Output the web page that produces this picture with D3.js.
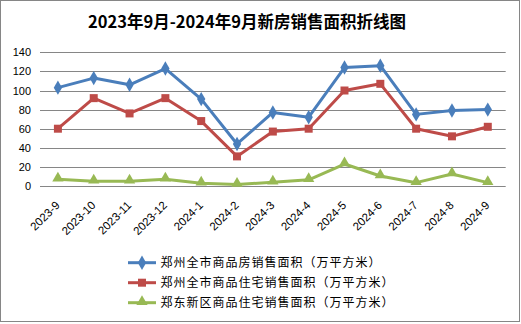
<!DOCTYPE html>
<html><head><meta charset="utf-8">
<script src="https://cdn.jsdelivr.net/npm/d3@7"></script>
<style>
html,body{margin:0;padding:0;background:#fff;}
svg{display:block;}
</style></head>
<body>
<script>
const title = "2023年9月-2024年9月新房销售面积折线图";
const categories = ["2023-9","2023-10","2023-11","2023-12","2024-1","2024-2","2024-3","2024-4","2024-5","2024-6","2024-7","2024-8","2024-9"];
const seriesNames = ["郑州全市商品房销售面积（万平方米）","郑州全市商品住宅销售面积（万平方米）","郑东新区商品住宅销售面积（万平方米）"];
const allHousing = [103,113,106,123,91,44,77,72,124,126,75,79,80];
const residential = [60,92,76,92,68,31,57,60,100,107,60,52,62];
const zhengdong = [7,5,5,7,3,1.5,4,6.5,23,10.5,3.5,12.5,3.5];
const yTicks = [0,20,40,60,80,100,120,140];

const colors = ["#4A7EBB","#BE4B48","#98B954"];
const shapes = ["diamond","square","triangle"];
const data = [allHousing, residential, zhengdong];

const W = 521, H = 324;
const svg = d3.select("body").append("svg").attr("width", W).attr("height", H);
svg.append("rect").attr("x",0.5).attr("y",0.5).attr("width",519).attr("height",321)
  .attr("fill","#fff").attr("stroke","#868686").attr("stroke-width",1);

svg.append("text").attr("x",247).attr("y",28).attr("text-anchor","middle")
  .attr("font-family","'Noto Sans CJK SC', sans-serif").attr("font-weight","bold")
  .attr("font-size",16.5).attr("fill","#000").text(title);

const x = d3.scaleBand().domain(categories).range([40,505.7]);
const y = d3.scaleLinear().domain([0,140]).range([186,52.3]);

// gridlines
svg.append("g").selectAll("line").data(yTicks).join("line")
  .attr("x1",40).attr("x2",505.7)
  .attr("y1",d=>Math.round(y(d))+0.5).attr("y2",d=>Math.round(y(d))+0.5)
  .attr("stroke","#868686").attr("stroke-width",1);

// y labels
svg.append("g").selectAll("text").data(yTicks).join("text")
  .attr("x",31).attr("y",d=>y(d)+4).attr("text-anchor","end")
  .attr("font-family","'Liberation Sans', Arial, sans-serif").attr("font-size",11)
  .attr("fill","#000").text(d=>d);

// x labels
svg.append("g").selectAll("text").data(categories).join("text")
  .attr("transform",d=>`translate(${x(d)+x.bandwidth()/2+2.5},${206}) rotate(-45)`)
  .attr("text-anchor","end")
  .attr("font-family","'Liberation Sans', Arial, sans-serif").attr("font-size",11.5)
  .attr("fill","#000").text(d=>d);

const sym = {
  diamond: d3.symbol().type(d3.symbolDiamond).size(60),
  square: d3.symbol().type(d3.symbolSquare).size(64),
  triangle: d3.symbol().type(d3.symbolTriangle).size(55)
};

const line = d3.line().x((d,i)=>x(categories[i])+x.bandwidth()/2).y(d=>y(d));

data.slice().reverse().forEach((vals, ri)=>{
  const k = data.length-1-ri;
  const g = svg.append("g");
  g.append("path").datum(vals).attr("d",line).attr("fill","none")
    .attr("stroke",colors[k]).attr("stroke-width",3).attr("stroke-linejoin","round");
  g.selectAll("path.m").data(vals).join("path").attr("class","m")
    .attr("transform",(d,i)=>`translate(${x(categories[i])+x.bandwidth()/2},${y(d)+(shapes[k]==="triangle"?-1:0)})`)
    .attr("d",sym[shapes[k]]).attr("fill",colors[k]);
});

// legend
const ly = [262.7,282.7,302.7];
seriesNames.forEach((n,k)=>{
  const g = svg.append("g");
  g.append("line").attr("x1",128).attr("x2",156).attr("y1",ly[k]).attr("y2",ly[k])
    .attr("stroke",colors[k]).attr("stroke-width",3);
  g.append("path").attr("transform",`translate(142,${ly[k]+(shapes[k]==="triangle"?-1:0)})`)
    .attr("d",sym[shapes[k]]).attr("fill",colors[k]);
  g.append("text").attr("x",160.5).attr("y",ly[k]+4.5)
    .attr("font-family","'Noto Sans CJK SC', sans-serif").attr("font-size",12)
    .attr("letter-spacing",1).attr("fill","#000").text(n);
});
</script>
</body></html>
